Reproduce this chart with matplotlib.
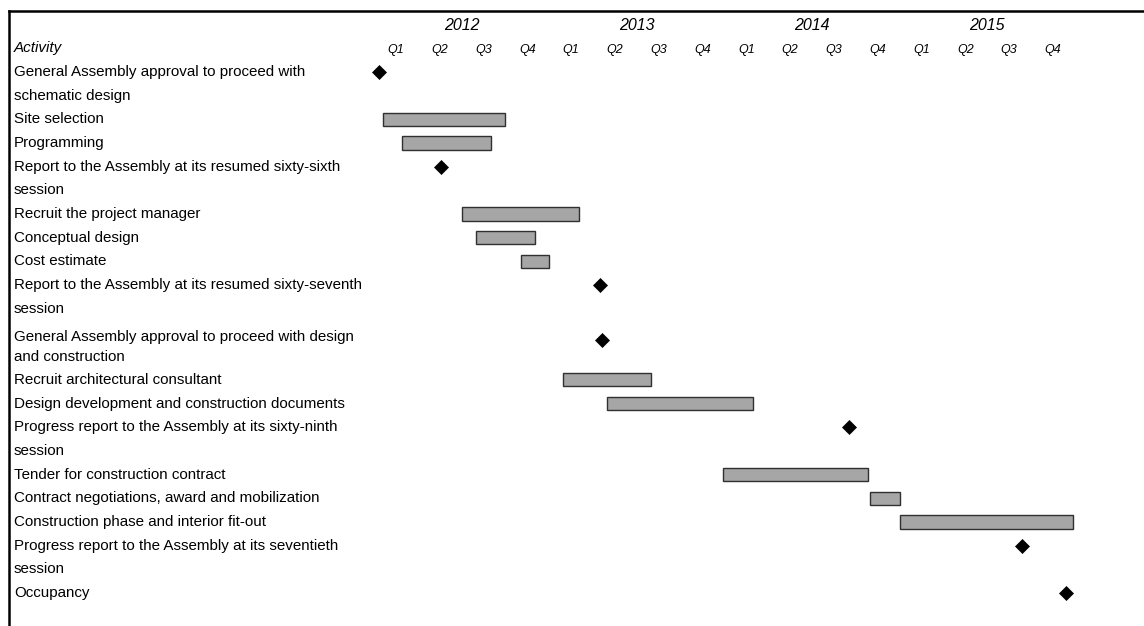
import matplotlib
matplotlib.use("Agg")
import matplotlib.pyplot as plt

plt.rcParams['font.family'] = ['Liberation Sans', 'DejaVu Sans']

# ---------------- data ----------------
activities = [
    "General Assembly approval to proceed with\nschematic design",
    "Site selection",
    "Programming",
    "Report to the Assembly at its resumed sixty-sixth\nsession",
    "Recruit the project manager",
    "Conceptual design",
    "Cost estimate",
    "Report to the Assembly at its resumed sixty-seventh\nsession",
    "General Assembly approval to proceed with design\nand construction",
    "Recruit architectural consultant",
    "Design development and construction documents",
    "Progress report to the Assembly at its sixty-ninth\nsession",
    "Tender for construction contract",
    "Contract negotiations, award and mobilization",
    "Construction phase and interior fit-out",
    "Progress report to the Assembly at its seventieth\nsession",
    "Occupancy",
]
# start / end in decimal years (milestones have start == end)
starts = [2012.03, 2012.05, 2012.16, 2012.38, 2012.50, 2012.58, 2012.84, 2013.29,
          2013.30, 2013.08, 2013.33, 2014.71, 2013.99, 2014.83, 2015.00, 2015.70, 2015.95]
ends   = [2012.03, 2012.75, 2012.67, 2012.38, 2013.17, 2012.92, 2013.00, 2013.29,
          2013.30, 2013.58, 2014.16, 2014.71, 2014.82, 2015.00, 2015.99, 2015.70, 2015.95]
is_milestone = [True, False, False, True, False, False, False, True,
                True, False, False, True, False, False, False, True, True]
years = [2012, 2013, 2014, 2015]
quarters = ["Q1", "Q2", "Q3", "Q4"]

# ---------------- figure ----------------
W, H = 1144, 626
fig = plt.figure(figsize=(W / 100, H / 100), dpi=100)
ax = fig.add_axes([9 / W, 0, 1 - 9 / W, 1 - 11 / H])

x0_pix, year_pix = 374.1, 175.2
ax.set_xlim(2012 - (x0_pix - 9) / year_pix, 2012 + (W - x0_pix) / year_pix)
line0_pix, pitch = 72.0, 23.68
ax.set_ylim((H - line0_pix) / pitch, (11 - line0_pix) / pitch)

for s in ['right', 'bottom']:
    ax.spines[s].set_visible(False)
for s in ['top', 'left']:
    ax.spines[s].set_linewidth(1.8)
    ax.spines[s].set_color('black')
ax.set_xticks([])
ax.set_yticks([])

ytr = ax.get_yaxis_transform()
fs = 10.9

# headers
ax.text(5 / 1135, -1.0, "Activity", transform=ytr, fontsize=fs, style='italic',
        va='center', ha='left')
for y in years:
    ax.text(y + 0.5, -1.95, str(y), fontsize=11.5, style='italic', ha='center', va='center')
    for qi, q in enumerate(quarters):
        ax.text(y + (qi + 0.5) / 4, -0.93, q, fontsize=9, style='italic',
                ha='center', va='center')

# rows
line = 0.0
for i, label in enumerate(activities):
    nlines = label.count("\n") + 1
    shifted = label.startswith("General Assembly approval to proceed with design")
    yl = line + (0.2 if shifted else 0.0)
    step = 0.85 if shifted else 1.0
    for k, part in enumerate(label.split("\n")):
        ax.text(5 / 1135, yl + k * step, part, transform=ytr,
                fontsize=fs, va='center', ha='left')
    ym = yl + (0.1 if shifted else 0.0)
    if is_milestone[i]:
        ax.plot([starts[i]], [ym], marker='D', ms=7.6, color='black',
                markeredgewidth=0.5, linestyle='none')
    else:
        ax.barh(ym, ends[i] - starts[i], left=starts[i], height=0.56,
                color='#a6a6a6', edgecolor='#303030', linewidth=1.0)
    line += nlines

fig.savefig("out.png", dpi=100)
